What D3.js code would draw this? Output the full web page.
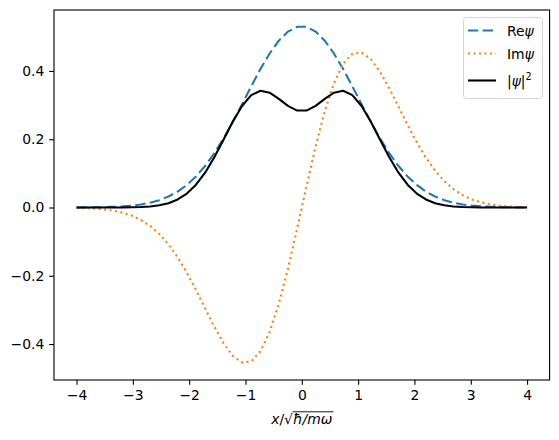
<!DOCTYPE html>
<html>
<head>
<meta charset="utf-8">
<script src="https://cdn.jsdelivr.net/npm/d3@7"></script>
<style>
  body { margin: 0; background: #fff; }
  text { font-family: "DejaVu Sans", sans-serif; }
</style>
</head>
<body>
<svg id="chart" width="559" height="440"></svg>
<script>
// samples (x in units of sqrt(hbar/m omega)), 50 points from -4 to 4
var xs = [-4.000,-3.837,-3.673,-3.510,-3.347,-3.184,-3.020,-2.857,-2.694,-2.531,
          -2.367,-2.204,-2.041,-1.878,-1.714,-1.551,-1.388,-1.224,-1.061,-0.898,
          -0.735,-0.571,-0.408,-0.245,-0.082, 0.082, 0.245, 0.408, 0.571, 0.735,
           0.898, 1.061, 1.224, 1.388, 1.551, 1.714, 1.878, 2.041, 2.204, 2.367,
           2.531, 2.694, 2.857, 3.020, 3.184, 3.347, 3.510, 3.673, 3.837, 4.000];

var rePsi = [0.00018,0.00034,0.00062,0.00112,0.00196,0.00334,0.00555,0.00896,0.01411,0.02161,
             0.03223,0.04681,0.06619,0.09114,0.12219,0.15952,0.20277,0.25097,0.30244,0.35490,
             0.40550,0.45112,0.48868,0.51543,0.52936,0.52936,0.51543,0.48868,0.45112,0.40550,
             0.35490,0.30244,0.25097,0.20277,0.15952,0.12219,0.09114,0.06619,0.04681,0.03223,
             0.02161,0.01411,0.00896,0.00555,0.00334,0.00196,0.00112,0.00062,0.00034,0.00018];

var imPsi = [-0.00101,-0.00183,-0.00324,-0.00557,-0.00929,-0.01506,-0.02370,-0.03622,-0.05374,-0.07733,
             -0.10790,-0.14590,-0.19103,-0.24200,-0.29624,-0.34990,-0.39795,-0.43459,-0.45391,-0.45069,
             -0.42132,-0.36456,-0.28208,-0.17851,-0.06111, 0.06111, 0.17851, 0.28208, 0.36456, 0.42132,
              0.45069, 0.45391, 0.43459, 0.39795, 0.34990, 0.29624, 0.24200, 0.19103, 0.14590, 0.10790,
              0.07733, 0.05374, 0.03622, 0.02370, 0.01506, 0.00929, 0.00557, 0.00324, 0.00183, 0.00101];

var probPsi = [0.000001,0.000004,0.00001,0.00003,0.00009,0.00024,0.00059,0.00139,0.00309,0.00645,
               0.01268,0.02348,0.04087,0.06687,0.10269,0.14788,0.19948,0.25186,0.29750,0.32907,
               0.34194,0.33641,0.31838,0.29754,0.28395,0.28395,0.29754,0.31838,0.33641,0.34194,
               0.32907,0.29750,0.25186,0.19948,0.14788,0.10269,0.06687,0.04087,0.02348,0.01268,
               0.00645,0.00309,0.00139,0.00059,0.00024,0.00009,0.00003,0.00001,0.000004,0.000001];

var xTicks = [-4, -3, -2, -1, 0, 1, 2, 3, 4];
var yTicks = [-0.4, -0.2, 0.0, 0.2, 0.4];

var svg = d3.select("#chart");
var plotL = 54, plotR = 549.6, plotT = 10, plotB = 380;
var fs = 13.9;

var x = d3.scaleLinear().domain([-4.4, 4.4]).range([plotL, plotR]);
var y = d3.scaleLinear().domain([-0.5053, 0.5786]).range([plotB, plotT]);

function fmt(d, p) {
  var s = d3.format("." + p + "f")(Math.abs(d));
  return (d < 0 ? "\u2212" : "") + s;
}

// series
var series = [
  { vals: rePsi, color: "#1f77b4", dash: "10.3,4.4" },
  { vals: imPsi, color: "#ff7f0e", dash: "2.08,3.43" },
  { vals: probPsi, color: "#000000", dash: null }
];

series.forEach(function (s) {
  var line = d3.line()
    .x(function (d, i) { return x(xs[i]); })
    .y(function (d) { return y(d); });
  svg.append("path")
    .attr("d", line(s.vals))
    .attr("fill", "none")
    .attr("stroke", s.color)
    .attr("stroke-width", 2.08)
    .attr("stroke-dasharray", s.dash)
    .attr("stroke-linecap", "butt")
    .attr("stroke-linejoin", "round");
});

// axes
var xAxis = d3.axisBottom(x).tickValues(xTicks).tickSize(4.86).tickPadding(4.86)
  .tickFormat(function (d) { return fmt(d, 0); });
var yAxis = d3.axisLeft(y).tickValues(yTicks).tickSize(4.86).tickPadding(4.86)
  .tickFormat(function (d) { return fmt(d, 1); });

var gx = svg.append("g").attr("transform", "translate(0," + plotB + ")").call(xAxis);
var gy = svg.append("g").attr("transform", "translate(" + plotL + ",0)").call(yAxis);
[gx, gy].forEach(function (g) {
  g.select(".domain").remove();
  g.selectAll(".tick line").attr("stroke", "#000").attr("stroke-width", 1.1);
  g.selectAll(".tick text").attr("font-size", fs).attr("fill", "#000")
    .style("font-family", "'DejaVu Sans', sans-serif");
});

svg.append("rect")
  .attr("x", plotL).attr("y", plotT)
  .attr("width", plotR - plotL).attr("height", plotB - plotT)
  .attr("fill", "none").attr("stroke", "#000").attr("stroke-width", 1.1);

// x label: x/sqrt(hbar/m omega)
var xl = svg.append("text")
  .attr("x", 0).attr("y", 424)
  .attr("font-size", fs).attr("fill", "#000");
xl.append("tspan").attr("font-style", "italic").text("x");
xl.append("tspan").text("/");
xl.append("tspan").text("\u221A");
xl.append("tspan").attr("font-style", "italic").text("\u0127/m\u03C9");
var w = xl.node().getComputedTextLength();
var x0 = x(0) - w / 2;
xl.attr("x", x0);
var startInner = xl.node().getSubStringLength(0, 3);
svg.append("line")
  .attr("x1", x0 + startInner - 0.5).attr("x2", x0 + w + 1)
  .attr("y1", 424 - 12.2).attr("y2", 424 - 12.2)
  .attr("stroke", "#000").attr("stroke-width", 0.9);

// legend
var lg = svg.append("g");
lg.append("rect")
  .attr("x", 463.5).attr("y", 17.5).attr("width", 79).attr("height", 81)
  .attr("rx", 3).attr("fill", "#fff").attr("fill-opacity", 0.8)
  .attr("stroke", "#d6d6d6").attr("stroke-width", 1);

var legendRows = [
  { color: "#1f77b4", dash: "10.3,4.4", yy: 30.5, label: ["Re", "\u03C8", ""] },
  { color: "#ff7f0e", dash: "2.08,3.43", yy: 53.5, label: ["Im", "\u03C8", ""] },
  { color: "#000000", dash: null, yy: 80.5, label: ["|", "\u03C8", "|"] }
];
legendRows.forEach(function (r) {
  lg.append("line")
    .attr("x1", 468).attr("x2", 496)
    .attr("y1", r.yy).attr("y2", r.yy)
    .attr("stroke", r.color).attr("stroke-width", 2.08)
    .attr("stroke-dasharray", r.dash);
  var t = lg.append("text")
    .attr("x", 507).attr("y", r.yy + 5)
    .attr("font-size", fs).attr("fill", "#000");
  t.append("tspan").text(r.label[0]);
  t.append("tspan").attr("font-style", "italic").text(r.label[1]);
  if (r.label[2]) {
    t.append("tspan").text(r.label[2]);
    t.append("tspan").attr("font-size", 9.7).attr("dy", -6).text("2");
  }
});
</script>
</body>
</html>
